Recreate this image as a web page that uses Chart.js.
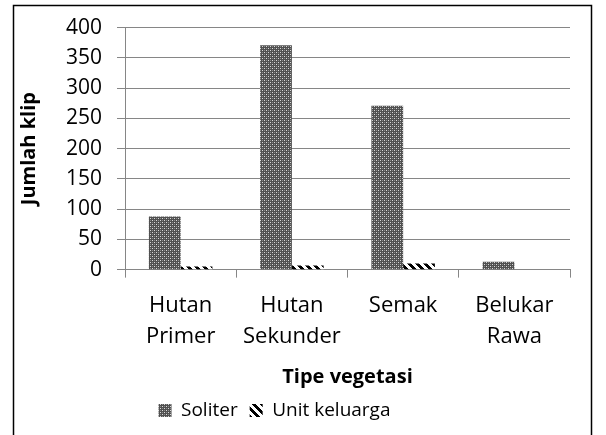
<!DOCTYPE html>
<html>
<head>
<meta charset="utf-8">
<script src="https://cdn.jsdelivr.net/npm/chart.js@4"></script>
<style>
  html, body { margin: 0; padding: 0; background: #fff; }
  #wrap { width: 606px; height: 435px; position: relative; }
</style>
</head>
<body>
<div id="wrap"><canvas id="chart" width="606" height="435"></canvas></div>
<script>
// ----------------------
// Data
// ----------------------
const categories = [["Hutan", "Primer"], ["Hutan", "Sekunder"], ["Semak"], ["Belukar", "Rawa"]];
const soliter = [88, 371, 271, 13];
const unitKeluarga = [5, 7, 10, 0];
const seriesNames = ["Soliter", "Unit keluarga"];
const yTicks = { min: 0, max: 400, step: 50 };

const FONT = "'Open Sans', 'Noto Sans', sans-serif";
const GRID = "#868686";

// ----------------------
// Fill patterns
// ----------------------
function makeTile(size, painter) {
  const c = document.createElement("canvas");
  c.width = size; c.height = size;
  const g = c.getContext("2d");
  painter(g, size);
  return c;
}

const ctx = document.getElementById("chart").getContext("2d");

const checkTile = makeTile(4, (g) => {
  g.fillStyle = "#505050";
  g.fillRect(0, 0, 4, 4);
  g.fillStyle = "#d8d8d8";
  g.fillRect(0, 0, 1, 1);
  g.fillRect(2, 2, 1, 1);
  g.fillStyle = "#8a8a8a";
  g.fillRect(2, 0, 1, 1);
  g.fillRect(0, 2, 1, 1);
});

const stripeTile = makeTile(8, (g, s) => {
  g.fillStyle = "#fff";
  g.fillRect(0, 0, s, s);
  g.fillStyle = "#000";
  for (let y = 0; y < s; y++) {
    for (let x = 0; x < s; x++) {
      if (((x - y + s) % s) < 4) g.fillRect(x, y, 1, 1);
    }
  }
});

const soliterFill = ctx.createPattern(checkTile, "repeat");
const unitFill = ctx.createPattern(stripeTile, "repeat");

// ----------------------
// Frame + legend shift
// ----------------------
const framePlugin = {
  id: "frame",
  afterLayout(chart) {
    const lg = chart.legend;
    if (lg) { lg.left -= 19; lg.right -= 19; }
  },
  afterDraw(chart) {
    const c = chart.ctx;
    c.save();
    c.strokeStyle = "#000";
    c.lineWidth = 1.5;
    c.strokeRect(13.5, 5.5, 578, 440);
    c.restore();
  }
};

new Chart(ctx, {
  type: "bar",
  data: {
    labels: categories,
    datasets: [
      { label: seriesNames[0], data: soliter, backgroundColor: soliterFill, borderWidth: 0 },
      { label: seriesNames[1], data: unitKeluarga, backgroundColor: unitFill, borderWidth: 0 }
    ]
  },
  options: {
    responsive: false,
    animation: false,
    devicePixelRatio: 1,
    layout: { padding: { left: 17, right: 36, top: 18, bottom: 5 } },
    datasets: { bar: { categoryPercentage: 0.571, barPercentage: 1.0 } },
    plugins: {
      tooltip: { enabled: false },
      legend: {
        position: "bottom",
        labels: {
          font: { family: FONT, size: 19 },
          color: "#000",
          boxWidth: 13,
          boxHeight: 13,
          padding: 12
        }
      }
    },
    scales: {
      x: {
        grid: { offset: true, drawOnChartArea: false, drawTicks: true, tickLength: 8, color: GRID },
        border: { color: GRID },
        ticks: { font: { family: FONT, size: 22, lineHeight: 1.44 }, color: "#000", padding: 12, maxRotation: 0 },
        title: { display: true, text: "Tipe vegetasi", font: { family: FONT, size: 20, weight: "bold" }, color: "#000", padding: { top: 0, bottom: 0 } }
      },
      y: {
        min: yTicks.min,
        max: yTicks.max,
        grid: { color: GRID, tickLength: 8 },
        border: { color: GRID },
        ticks: { stepSize: yTicks.step, autoSkip: false, font: { family: FONT, size: 21 }, color: "#000", padding: 15 },
        title: { display: true, text: "Jumlah klip", font: { family: FONT, size: 20, weight: "bold" }, color: "#000", padding: { top: 0, bottom: 10 } }
      }
    }
  },
  plugins: [framePlugin]
});
</script>
</body>
</html>
